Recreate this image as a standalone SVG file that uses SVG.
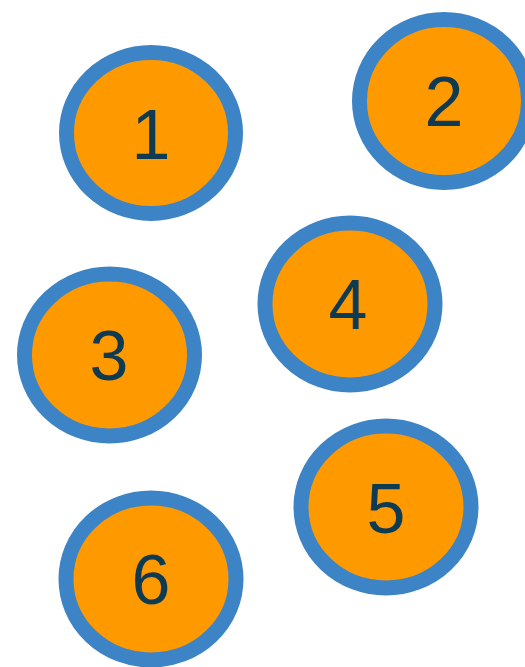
<svg xmlns="http://www.w3.org/2000/svg" width="525" height="667" viewBox="0 0 525 667">
<style>
.c{fill:#ff9900;stroke:#3d84c6;stroke-width:15}
.t{font-family:"Liberation Sans",Arial,sans-serif;font-size:70px;fill:#0e3a52;text-anchor:middle}
</style>
<defs><clipPath id="clip"><rect x="0" y="11" width="525" height="656"/></clipPath></defs>
<rect width="525" height="667" fill="#fff"/>
<g id="connectors"/>
<g clip-path="url(#clip)">
<g id="node1"><ellipse class="c" cx="151" cy="133" rx="84.5" ry="80.5"/><text class="t" x="151" y="159">1</text></g>
<g id="node2"><ellipse class="c" cx="444" cy="101" rx="84.5" ry="81.5"/><text class="t" x="444" y="126">2</text></g>
<g id="node3"><ellipse class="c" cx="109.5" cy="355" rx="85" ry="81"/><text class="t" x="109" y="380">3</text></g>
<g id="node4"><ellipse class="c" cx="350" cy="304" rx="85" ry="81"/><text class="t" x="348" y="329">4</text></g>
<g id="node5"><ellipse class="c" cx="386" cy="507" rx="85" ry="81"/><text class="t" x="386" y="533">5</text></g>
<g id="node6"><ellipse class="c" cx="151" cy="579" rx="85" ry="81"/><text class="t" x="151" y="604">6</text></g>
</g>
</svg>
